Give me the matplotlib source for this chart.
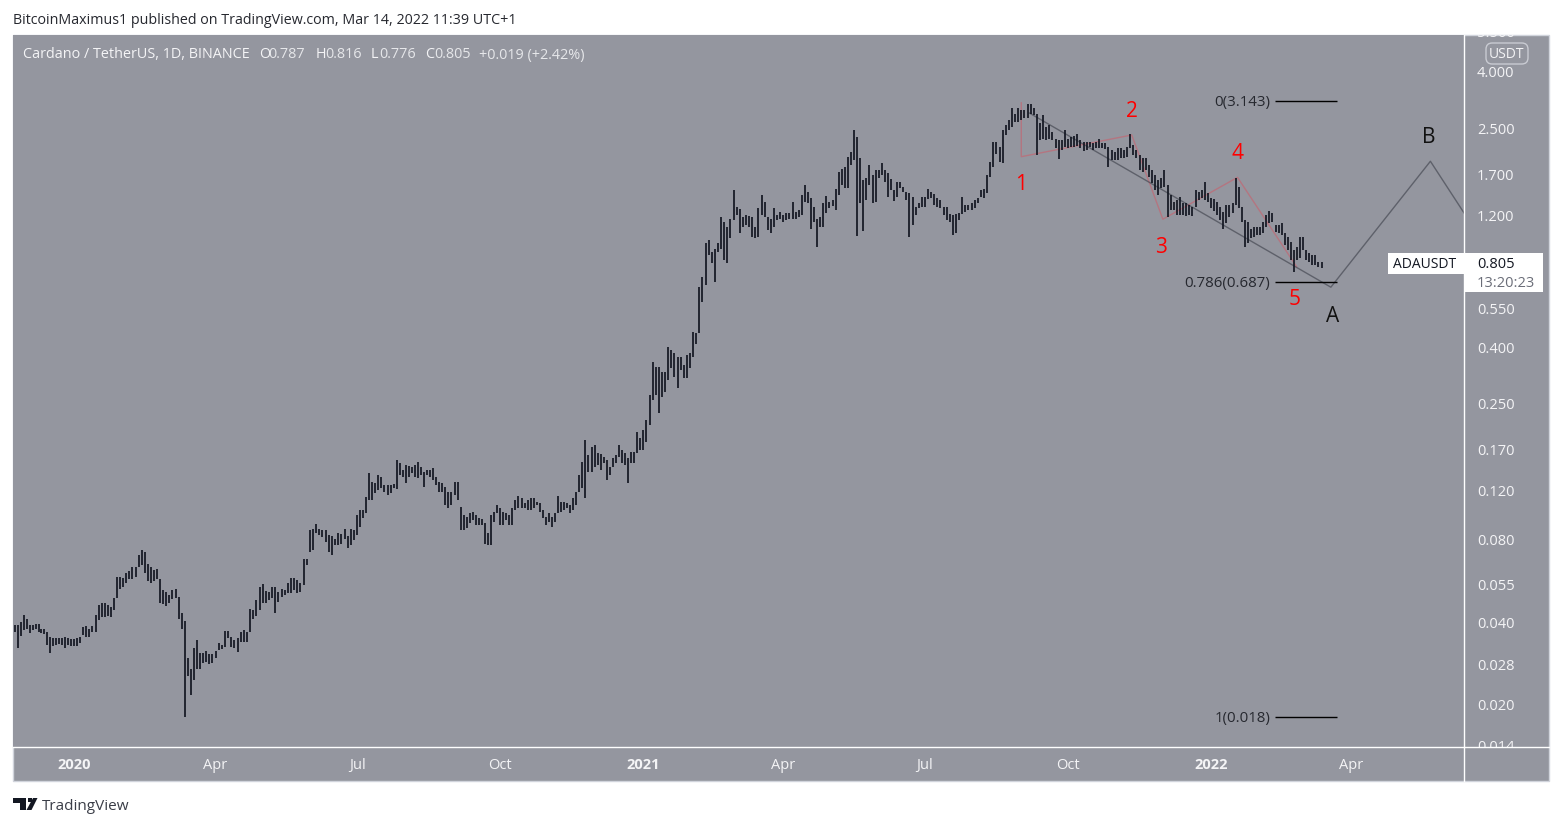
import numpy as np
import pandas as pd
import matplotlib
matplotlib.use('Agg')
import matplotlib.pyplot as plt
import matplotlib.dates as mdates
from matplotlib.patches import Rectangle, FancyBboxPatch, Polygon
from matplotlib.lines import Line2D
from matplotlib.transforms import Bbox

plt.rcParams['font.family'] = ['Open Sans', 'DejaVu Sans']

high_2019 = [.0390, .0390, .0400, .0424, .0412, .0390, .0390, .0393, .0393, .0379, .0378, .0369, .0352, .0349, .0349, .0351, .0351, .0352, .0349, .0346]
low_2019 = [.0369, .0321, .0356, .0374, .0379, .0364, .0374, .0376, .0369, .0364, .0362, .0330, .0308, .0328, .0330, .0332, .0330, .0321, .0330, .0328]

high_q1_20 = [.0346, .0349, .0354, .0383, .0387, .0379, .0387, .0424, .0461, .0468, .0470, .0461, .0455, .0488, .0584, .0584, .0581, .0605, .0615, .0634, .0634, .0701, .0731, .0720, .0650, .0634, .0618, .0622, .0576, .0523, .0516, .0502, .0523, .0526, .0494, .0430, .0404, .0295, .0271, .0321, .0344, .0308, .0309, .0315, .0306, .0306]
low_q1_20 = [.0327, .0327, .0335, .0358, .0352, .0352, .0369, .0369, .0407, .0416, .0416, .0420, .0416, .0442, .0488, .0526, .0538, .0553, .0572, .0576, .0584, .0634, .0645, .0605, .0565, .0556, .0565, .0572, .0470, .0465, .0457, .0470, .0484, .0488, .0412, .0379, .0180, .0255, .0217, .0246, .0269, .0271, .0283, .0287, .0282, .0283]

high_q2_20 = [.0315, .0337, .0330, .0371, .0371, .0354, .0344, .0349, .0369, .0374, .0369, .0448, .0442, .0480, .0538, .0550, .0520, .0516, .0535, .0535, .0516, .0526, .0523, .0553, .0581, .0581, .0568, .0556, .0681, .0681, .0864, .0875, .0909, .0875, .0864, .0864, .0829, .0820, .0805, .0842, .0835, .0875, .0820, .0875, .0864]
low_q2_20 = [.0297, .0318, .0320, .0326, .0349, .0326, .0321, .0312, .0339, .0339, .0339, .0369, .0412, .0420, .0442, .0470, .0468, .0480, .0488, .0430, .0473, .0494, .0502, .0512, .0510, .0523, .0510, .0516, .0546, .0645, .0721, .0731, .0840, .0829, .0817, .0783, .0720, .0701, .0762, .0762, .0770, .0805, .0745, .0762, .0795]

high_q3_20 = [.0980, .1022, .1022, .1139, .1393, .1292, .1281, .1370, .1347, .1260, .1260, .1260, .1271, .1553, .1512, .1428, .1489, .1477, .1465, .1489, .1527, .1465, .1404, .1428, .1428, .1452, .1347, .1292, .1281, .1239, .1188, .1188, .1292, .1292, .1047, .0980, .0964, .0996, .1005, .0980, .0956, .0948, .0916, .0842, .0980, .1005, .1065]
low_q3_20 = [.0829, .0886, .0956, .0996, .1111, .1111, .1178, .1208, .1229, .1188, .1158, .1178, .1229, .1219, .1370, .1347, .1281, .1347, .1393, .1347, .1336, .1370, .1239, .1370, .1347, .1314, .1260, .1188, .1188, .1065, .1038, .1065, .1158, .1111, .0864, .0864, .0879, .0916, .0940, .0901, .0901, .0901, .0770, .0762, .0762, .0924, .0996]

high_q4_20 = [.1038, .1005, .0996, .0980, .1038, .1111, .1148, .1130, .1085, .1111, .1130, .1130, .1090, .1085, .1022, .0964, .0996, .0964, .0996, .1148, .1090, .1090, .1085, .1065, .1130, .1188, .1370, .1527, .1836, .1620, .1731, .1760, .1647, .1633, .1593, .1553, .1465, .1580, .1620, .1760, .1691, .1647, .1580, .1661, .1661, .1963, .1867]
low_q4_20 = [.0901, .0901, .0940, .0901, .0901, .1022, .1038, .1038, .1038, .1022, .1022, .1038, .1065, .1005, .0956, .0901, .0924, .0886, .0924, .0996, .1005, .1022, .1038, .0996, .1022, .1065, .1188, .1229, .1130, .1404, .1404, .1465, .1489, .1428, .1512, .1314, .1370, .1465, .1512, .1593, .1512, .1489, .1281, .1512, .1512, .1647, .1691]

high_q1_21 = [.1994, .2168, .2672, .3525, .3382, .3382, .3245, .3245, .400, .3895, .3800, .3680, .3680, .3437, .3737, .3800, .4530, .4490, .6600, .7180, .9530, .9785, .8850, .9100, .9530, 1.185, 1.135, 1.090, 1.170, 1.486, 1.290, 1.265, 1.185, 1.206, 1.195, 1.185, 1.090, 1.280, 1.425, 1.345, 1.185, 1.170, 1.280, 1.206, 1.235]
low_q1_21 = [.1687, .1805, .2079, .2563, .2672, .2300, .2630, .2740, .3031, .3360, .3120, .2830, .3296, .3090, .3090, .3360, .3680, .4100, .4490, .5820, .6714, .8630, .8060, .6880, .8850, .9100, .8277, .8060, .9950, 1.156, 1.206, 1.040, 1.090, 1.109, 1.090, 1.005, .9950, 1.005, 1.206, 1.185, 1.0637, 1.040, 1.090, 1.156, 1.170]

high_q2_21 = [1.206, 1.225, 1.225, 1.345, 1.235, 1.257, 1.425, 1.549, 1.462, 1.390, 1.290, 1.170, 1.185, 1.330, 1.415, 1.345, 1.367, 1.498, 1.727, 1.768, 1.800, 1.957, 2.040, 2.453, 2.320, 1.940, 1.615, 1.640, 1.831, 1.684, 1.756, 1.756, 1.860, 1.756, 1.710, 1.627, 1.486, 1.590, 1.590, 1.525, 1.462, 1.450, 1.400, 1.290, 1.330, 1.400]
low_q2_21 = [1.135, 1.156, 1.165, 1.170, 1.170, 1.185, 1.206, 1.345, 1.330, 1.078, 1.135, .9230, 1.090, 1.090, 1.225, 1.280, 1.300, 1.257, 1.425, 1.549, 1.510, 1.510, 1.831, 1.909, 1.012, 1.330, 1.055, 1.367, 1.549, 1.330, 1.345, 1.640, 1.684, 1.590, 1.400, 1.486, 1.355, 1.400, 1.510, 1.462, 1.367, 1.005, 1.109, 1.206, 1.280, 1.290]

high_q3_21 = [1.400, 1.498, 1.462, 1.438, 1.390, 1.367, 1.290, 1.290, 1.215, 1.206, 1.215, 1.225, 1.400, 1.311, 1.311, 1.330, 1.367, 1.390, 1.486, 1.498, 1.684, 1.875, 2.220, 2.220, 2.130, 2.453, 2.557, 2.666, 2.950, 2.820, 2.950, 2.899, 2.899, 3.070, 3.070, 2.950, 2.820, 2.600, 2.780, 2.520, 2.557, 2.410, 2.290, 2.256, 2.256, 2.453]
low_q3_21 = [1.290, 1.385, 1.390, 1.311, 1.290, 1.280, 1.206, 1.156, 1.135, 1.020, 1.040, 1.156, 1.215, 1.235, 1.257, 1.257, 1.280, 1.330, 1.400, 1.390, 1.450, 1.655, 1.800, 2.020, 1.875, 1.860, 2.352, 2.453, 2.520, 2.620, 2.620, 2.666, 2.710, 2.710, 2.820, 2.780, 1.990, 2.256, 2.290, 2.256, 2.290, 2.256, 2.110, 1.925, 2.075, 2.130]

high_q4_21 = [2.290, 2.320, 2.335, 2.375, 2.256, 2.220, 2.220, 2.220, 2.200, 2.220, 2.290, 2.200, 2.200, 2.130, 2.075, 2.040, 2.110, 2.110, 2.075, 2.130, 2.375, 2.164, 2.075, 1.990, 1.940, 1.940, 1.831, 1.756, 1.684, 1.615, 1.640, 1.756, 1.549, 1.425, 1.345, 1.367, 1.400, 1.330, 1.330, 1.311, 1.290, 1.486, 1.462, 1.486, 1.590, 1.450]
low_q4_21 = [2.110, 2.130, 2.130, 2.147, 2.110, 2.058, 2.075, 2.130, 2.075, 2.110, 2.110, 2.110, 2.092, 1.800, 1.909, 1.909, 1.909, 1.940, 1.940, 1.957, 2.110, 1.990, 1.940, 1.756, 1.727, 1.756, 1.655, 1.575, 1.486, 1.425, 1.510, 1.525, 1.185, 1.257, 1.257, 1.206, 1.206, 1.206, 1.195, 1.206, 1.195, 1.290, 1.367, 1.390, 1.367, 1.345]

high_q1_22 = [1.390, 1.378, 1.345, 1.290, 1.235, 1.311, 1.311, 1.330, 1.640, 1.525, 1.290, 1.156, 1.135, 1.078, 1.090, 1.090, 1.090, 1.135, 1.206, 1.245, 1.225, 1.109, 1.109, 1.125, 1.040, 1.005, .9620, .9000, .9230, 1.005, 1.005, .9000, .8780, .8630, .8630, .8140, .816]
low_q1_22 = [1.280, 1.245, 1.206, 1.156, 1.078, 1.125, 1.185, 1.225, 1.311, 1.280, 1.135, .9230, .9530, .9950, 1.005, 1.020, 1.020, 1.040, 1.090, 1.125, 1.135, 1.045, 1.040, 1.020, .9384, .9000, .8277, .7480, .8277, .8420, .9000, .8277, .8140, .7937, .7937, .7800, .776]

# Each block of candles runs from the first date to the next block's first date
block_starts = ['2019-11-24', '2020-01-01', '2020-04-01', '2020-07-01', '2020-10-01', '2021-01-01',
                '2021-04-01', '2021-07-01', '2021-10-01', '2022-01-01', '2022-03-15']
highs = [high_2019, high_q1_20, high_q2_20, high_q3_20, high_q4_20, high_q1_21, high_q2_21, high_q3_21, high_q4_21, high_q1_22]
lows = [low_2019, low_q1_20, low_q2_20, low_q3_20, low_q4_20, low_q1_21, low_q2_21, low_q3_21, low_q4_21, low_q1_22]

price_ticks = [4.0, 2.5, 1.7, 1.2, 0.55, 0.4, 0.25, 0.17, 0.12, 0.08, 0.055, 0.04, 0.028, 0.02]
time_ticks = ['2020-01-01', '2020-04-01', '2020-07-01', '2020-10-01', '2021-01-01', '2021-04-01',
              '2021-07-01', '2021-10-01', '2022-01-01', '2022-04-01']
time_labels = ['2020', 'Apr', 'Jul', 'Oct', '2021', 'Apr', 'Jul', 'Oct', '2022', 'Apr']

# Drawings on the chart
wave_dates = ['2021-09-01', '2021-09-01', '2021-11-11', '2021-12-01', '2022-01-18', '2022-02-25']
wave_prices = [3.09, 1.968, 2.36, 1.166, 1.655, 0.783]
channel_dates = ['2021-09-06', '2022-03-19', '2022-05-22', '2022-07-06']
channel_prices = [2.84, 0.66, 1.894, 0.77]
fib_levels = [3.143, 0.687, 0.018]
fib_labels = ['0(3.143)', '0.786(0.687)', '1(0.018)']
fib_start, fib_end = '2022-02-11', '2022-03-23'
wave_names = ['1', '2', '3', '4', '5']
wave_name_dates = ['2021-09-01', '2021-11-11', '2021-11-30', '2022-01-18', '2022-02-24']
wave_name_prices = [1.563, 2.876, 0.923, 2.025, 0.595]
abc_names = ['A', 'B']
abc_dates = ['2022-03-20', '2022-05-21']
abc_prices = [0.517, 2.312]

W, H = 1562, 826
BG = '#94969f'
BAR = '#131722'
LABEL = '#f4f4f6'


def fx(x):
    return x / W


def fy(y):
    return 1 - y / H


def num(d):
    return mdates.date2num(pd.Timestamp(d))


fig = plt.figure(figsize=(W / 100, H / 100), dpi=100, facecolor='white')
ax = fig.add_axes([fx(13), fy(747), (1464 - 13) / W, (747 - 35) / H], facecolor=BG)

# Panel behind the price and time scales
fig.add_artist(Rectangle((fx(13), fy(781)), 1536 / W, 746 / H, transform=fig.transFigure,
                         facecolor=BG, edgecolor='#d1d4dc', lw=1, zorder=-1))

# Candles, drawn as high-low sticks
for i in range(len(highs)):
    xs = np.linspace(num(block_starts[i]), num(block_starts[i + 1]), len(highs[i]), endpoint=False)
    ax.vlines(xs, lows[i], highs[i], color=BAR, lw=1.25, zorder=3)

ax.set_yscale('log')
ax.set_xlim(num('2019-11-22') + 0.8, num('2022-06-13') - 0.4)
ax.set_ylim(0.01406, 5.45)
ax.minorticks_off()
for s in ax.spines.values():
    s.set_visible(False)

ax.yaxis.tick_right()
ax.set_yticks(price_ticks, labels=['%.3f' % p for p in price_ticks])
ax.set_xticks([num(d) for d in time_ticks], labels=time_labels)
ax.tick_params(axis='both', length=0, labelcolor=LABEL, labelsize=10.5)
ax.tick_params(axis='y', pad=9.4)
ax.tick_params(axis='x', pad=8)
for lab in ax.get_xticklabels():
    if lab.get_text().startswith('20'):
        lab.set_fontweight('bold')

# Red wave count and the grey projection
ax.plot([num(d) for d in wave_dates], wave_prices, color='#f23645', alpha=0.34, lw=1, zorder=2)
ax.plot([num(d) for d in channel_dates], channel_prices, color='#4c4f59', alpha=0.75, lw=1, zorder=2)
ax.hlines(fib_levels, num(fib_start), num(fib_end), color='black', lw=1, zorder=4)
for lev, txt in zip(fib_levels, fib_labels):
    ax.annotate(txt, (num(fib_start), lev), xytext=(-3.5, -1), textcoords='offset points',
                ha='right', va='center', fontsize=10.8, color='#26282f')
for name, d, p in zip(wave_names, wave_name_dates, wave_name_prices):
    ax.text(num(d), p, name, color='#ff0000', fontsize=15, ha='center', va='center')
for name, d, p in zip(abc_names, abc_dates, abc_prices):
    ax.text(num(d), p, name, color='#111111', fontsize=15, ha='center', va='center')

# Scale separators
fig.add_artist(Line2D([fx(1464), fx(1464)], [fy(35), fy(781)], color='white', lw=1, zorder=2))
fig.add_artist(Line2D([fx(13), fx(1549)], [fy(747), fy(747)], color='white', lw=1, zorder=2))

# Labels cut off by the top and bottom of the price scale
scale_box = Bbox.from_extents(1464, H - 747, 1549, H - 35)
for p in [5.5, 0.014]:
    t = ax.text(1 + 13 / 1451, p, '%.3f' % p, transform=ax.get_yaxis_transform(), color=LABEL,
                fontsize=10.5, va='center', ha='left', clip_on=True)
    t.set_clip_box(scale_box)

# USDT badge
fig.add_artist(FancyBboxPatch((fx(1486), fy(64)), 42 / W, 21 / H, transform=fig.transFigure,
                              boxstyle='round,pad=0,rounding_size=0.004', mutation_aspect=W / H,
                              facecolor=BG, edgecolor='#c9cbd2', lw=1, zorder=2))
fig.text(fx(1507), fy(54.5), 'USDT', color=LABEL, fontsize=10, ha='center', va='center')

# Last price labels
fig.add_artist(Rectangle((fx(1388), fy(274)), 76 / W, 21 / H, transform=fig.transFigure,
                         facecolor='white', edgecolor='none', zorder=2))
fig.add_artist(Rectangle((fx(1465), fy(292)), 78 / W, 39 / H, transform=fig.transFigure,
                         facecolor='white', edgecolor='none', zorder=2))
fig.text(fx(1425), fy(265), 'ADAUSDT', color='#131722', fontsize=10, ha='center', va='center')
fig.text(fx(1477), fy(265), '0.805', color='#131722', fontsize=10.5, ha='left', va='center')
fig.text(fx(1477), fy(283.5), '13:20:23', color='#6a6d78', fontsize=10.5, ha='left', va='center')

# Header and legend
fig.text(fx(13), fy(20.5), 'BitcoinMaximus1 published on TradingView.com, Mar 14, 2022 11:39 UTC+1',
         color='#26282f', fontsize=10.25, ha='left', va='center')
fig.text(fx(23), fy(55), 'Cardano / TetherUS, 1D, BINANCE', color=LABEL, fontsize=10.35, ha='left', va='center')
for x, letter, vx, value in [(259, 'O', 268, '0.787'), (316, 'H', 325, '0.816'),
                             (371, 'L', 379, '0.776'), (425, 'C', 434, '0.805')]:
    fig.text(fx(x), fy(55), letter, color=LABEL, fontsize=10.35, ha='left', va='center')
    fig.text(fx(vx), fy(55), value, color='#e6e7ea', fontsize=10.35, ha='left', va='center')
fig.text(fx(479), fy(55), '+0.019 (+2.42%)', color='#e6e7ea', fontsize=10.35, ha='left', va='center')

# TradingView logo and name in the footer
logo_t = [(13.3, 798), (25.5, 798), (25.5, 810), (19.5, 810), (19.5, 802.5), (13.3, 802.5)]
logo_s = [(33, 798), (37.5, 798), (31.5, 810), (26.5, 810)]
for pts in [logo_t, logo_s]:
    fig.add_artist(Polygon([(fx(a), fy(b)) for a, b in pts], transform=fig.transFigure,
                           facecolor='#131722', edgecolor='none'))
fig.add_artist(Rectangle((fx(27.6), fy(802.4)), 4.4 / W, 4.4 / H, transform=fig.transFigure,
                         facecolor='#131722', edgecolor='none'))
fig.text(fx(42), fy(806), 'TradingView', color='#3a3d47', fontsize=11, ha='left', va='center')

fig.savefig('out.png', dpi=100)
